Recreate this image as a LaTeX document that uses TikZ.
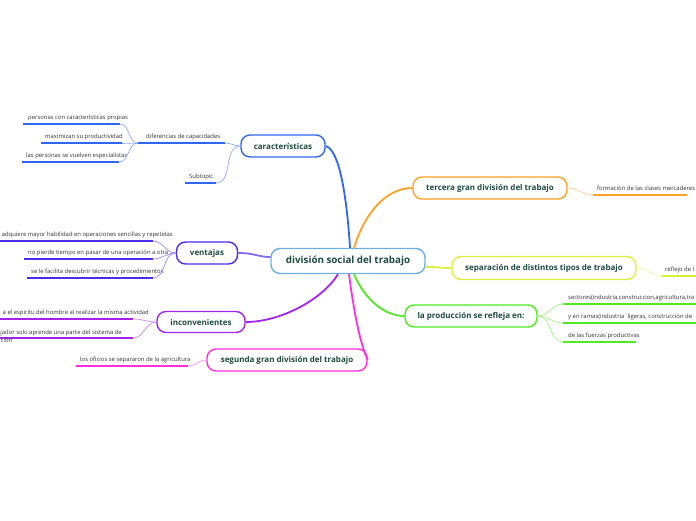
\documentclass[tikz,border=0pt]{standalone}
\usepackage{fontspec}
\setmainfont{Open Sans}

\definecolor{txtgreen}{HTML}{1D4B3F}
\definecolor{leaftxt}{HTML}{333333}
\definecolor{centralc}{HTML}{6CB0E2}
\definecolor{caracc}{HTML}{2F66F2}
\definecolor{ventc}{HTML}{4A2CEB}
\definecolor{incc}{HTML}{A424EE}
\definecolor{segc}{HTML}{FF2EE0}
\definecolor{terc}{HTML}{FFA126}
\definecolor{sepc}{HTML}{DCEF3A}
\definecolor{prodc}{HTML}{4EEA24}

\begin{document}
\begin{tikzpicture}[x=1pt,y=-1pt,
    topic/.style={draw=#1, line width=1.4pt, rounded corners=9pt, fill=white,
      text=txtgreen, font=\bfseries\fontsize{8}{9}\selectfont,
      inner sep=0pt, minimum height=22pt},
    leaf/.style={text=leaftxt, font=\fontsize{5.9}{6.9}\selectfont, inner sep=0pt},
    link/.style={draw=#1, line width=1.8pt},
    twig/.style={draw=#1!55, line width=0.7pt},
    uline/.style={draw=#1, line width=1.7pt}]
  \useasboundingbox (0,0) rectangle (696,520);

  % tema central
  \node[topic=centralc, minimum width=154pt, minimum height=25pt,
    font=\bfseries\fontsize{9.8}{11}\selectfont] (raiz) at (348,261) {división social del trabajo};

  % temas principales
  \node[topic=caracc, minimum width=84pt] (carac) at (283,146) {características};
  \node[topic=ventc, minimum width=61pt] (vent) at (207,253) {ventajas};
  \node[topic=incc, minimum width=88pt, minimum height=21pt] (inc) at (201,322) {inconvenientes};
  \node[topic=segc, minimum width=160pt] (seg) at (287,360) {segunda gran división del trabajo};
  \node[topic=terc, minimum width=154pt] (ter) at (490,188) {tercera gran división del trabajo};
  \node[topic=sepc, minimum width=184pt, minimum height=23pt] (sep) at (544,268) {separación de distintos tipos de trabajo};
  \node[topic=prodc, minimum width=132pt] (prod) at (471,316) {la producción se refleja en:};

  % ramas del tema central
  \draw[link=caracc] (carac.east) .. controls (340,150) and (347,200) .. ([xshift=2pt]raiz.north);
  \draw[link=terc] ([xshift=6pt]raiz.north) .. controls (364,215) and (385,188) .. (ter.west);
  \draw[link=sepc] ([yshift=-6pt]raiz.east) .. controls (440,267) and (440,268) .. (sep.west);
  \draw[link=prodc] ([xshift=6pt]raiz.south) .. controls (365,300) and (385,316) .. (prod.west);
  \draw[link=ventc!70] (vent.east) .. controls (255,253) and (258,257) .. ([yshift=4pt]raiz.west);
  \draw[link=incc] ([xshift=-10pt]raiz.south) .. controls (322,300) and (280,322) .. (inc.east);
  \draw[link=segc] ([xshift=1pt]raiz.south) .. controls (355,320) and (361,345) .. (seg.east);

  % características
  \coordinate (difw) at (138,143); \coordinate (dife) at (225,143);
  \coordinate (subw) at (185,183); \coordinate (sube) at (216,183);
  \draw[uline=caracc] (difw) -- (dife);
  \draw[uline=caracc] (subw) -- (sube);
  \node[leaf, anchor=base west] (dif) at (146,138) {diferencias de capacidades};
  \node[leaf, anchor=base west] (sub) at (189,178) {Subtopic};
  \draw[twig=caracc] (carac.west) to[out=180,in=0] (dife);
  \draw[twig=caracc] (carac.west) to[out=180,in=0] (sube);

  % diferencias de capacidades
  \coordinate (perw) at (23,124);  \coordinate (pere) at (120,124);
  \coordinate (maxw) at (41,143);  \coordinate (maxe) at (122,143);
  \coordinate (espw) at (22,162);  \coordinate (espe) at (119,162);
  \foreach \k in {per,max,esp}
    \draw[uline=caracc] (\k w) -- (\k e);
  \node[leaf, anchor=base west] (per) at (28,119) {personas con características propias};
  \node[leaf, anchor=base west] (max) at (45,138) {maximizan su productividad};
  \node[leaf, anchor=base west] (esp) at (26,157) {las personas se vuelven especialistas};
  \foreach \k in {per,max,esp}
    \draw[twig=caracc] (difw) to[out=180,in=0] (\k e);

  % ventajas
  \coordinate (adqw) at (0,241);   \coordinate (adqe) at (153,241);
  \coordinate (piew) at (24,259);  \coordinate (piee) at (153,259);
  \coordinate (facw) at (27,278);  \coordinate (face) at (153,278);
  \foreach \k in {adq,pie,fac}
    \draw[uline=ventc] (\k w) -- (\k e);
  \node[leaf, anchor=base east] (adq) at (173,236) {adquiere mayor habilidad en operaciones sencillas y repetidas};
  \node[leaf, anchor=base west] (pie) at (28,254) {no pierde tiempo en pasar de una operación a otra};
  \node[leaf, anchor=base west] (fac) at (31,273) {se le facilita descubrir técnicas y procedimientos};
  \foreach \k in {adq,pie,fac}
    \draw[twig=ventc] (vent.west) to[out=180,in=0] (\k e);

  % inconvenientes
  \coordinate (esrw) at (0,319);   \coordinate (esre) at (133,319);
  \coordinate (aprw) at (0,338);   \coordinate (apre) at (133,338);
  \foreach \k in {esr,apr}
    \draw[uline=incc] (\k w) -- (\k e);
  \node[leaf, anchor=base east] (esr) at (149,314) {a el espiritu del hombre al realizar la misma actividad};
  \node[leaf, anchor=base east] (apr) at (122,334) {jador solo aprende una parte del sistema de};
  \node[leaf, anchor=base west] (aprb) at (0.5,342) {ción};
  \foreach \k in {esr,apr}
    \draw[twig=incc] (inc.west) to[out=180,in=0] (\k e);

  % segunda gran división
  \coordinate (ofiw) at (76,366);  \coordinate (ofie) at (188,366);
  \draw[uline=segc] (ofiw) -- (ofie);
  \node[leaf, anchor=base west] (ofi) at (80,361) {los oficios se separaron de la agricultura};
  \draw[twig=segc] (seg.west) to[out=180,in=0] (ofie);

  % tercera gran división
  \coordinate (forw) at (593,195); \coordinate (fore) at (687,195);
  \draw[uline=terc] (forw) -- (fore);
  \node[leaf, anchor=base west] (for) at (597,190) {formación de las clases mercaderes};
  \draw[twig=terc] (ter.east) to[out=0,in=180] (forw);

  % separación de distintos tipos
  \coordinate (refw) at (662,276); \coordinate (refe) at (696,276);
  \draw[uline=sepc] (refw) -- (refe);
  \node[leaf, anchor=base west] (ref) at (665,271) {reflejo de l};
  \draw[twig=sepc] (sep.east) to[out=0,in=180] (refw);

  % la producción se refleja en
  \coordinate (secw) at (563,304); \coordinate (sece) at (696,304);
  \coordinate (ramw) at (563,323); \coordinate (rame) at (696,323);
  \coordinate (fuew) at (563,342); \coordinate (fuee) at (636,342);
  \foreach \k in {sec,ram,fue}
    \draw[uline=prodc] (\k w) -- (\k e);
  \node[leaf, anchor=base west] (sec) at (568,299) {sectores(industria,construccion,agricultura,tra};
  \node[leaf, anchor=base west] (ram) at (568,318) {y en ramas(industria\ \ ligeras, construcción de};
  \node[leaf, anchor=base west] (fue) at (568,337) {de las fuerzas productivas};
  \foreach \k in {sec,ram,fue}
    \draw[twig=prodc] (prod.east) to[out=0,in=180] (\k w);
\end{tikzpicture}
\end{document}
